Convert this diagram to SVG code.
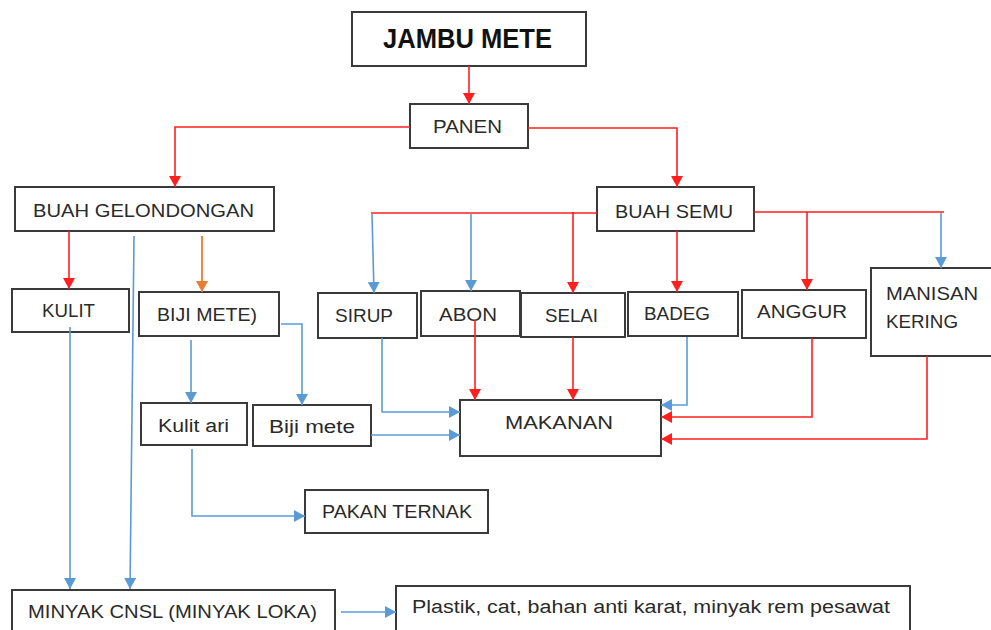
<svg xmlns="http://www.w3.org/2000/svg" width="991" height="630" viewBox="0 0 991 630">
<defs>
<style>
.box{fill:#fff;stroke:#3a3a3a;stroke-width:2}
.t{font-family:"Liberation Sans",Arial,sans-serif;font-size:18px;fill:#2a2a2a}
.tb{font-family:"Liberation Sans",Arial,sans-serif;font-size:27px;font-weight:bold;fill:#111}
.r{fill:none;stroke:#ff1f1f;stroke-width:1.6}
.b{fill:none;stroke:#5b9bd5;stroke-width:1.6}
.o{fill:none;stroke:#ed7d31;stroke-width:1.8}
</style>
<marker id="ar" markerUnits="userSpaceOnUse" markerWidth="12" markerHeight="12" refX="11" refY="6" orient="auto"><path d="M0,0 L11,6 L0,12 z" fill="#ff1f1f"/></marker>
<marker id="ab" markerUnits="userSpaceOnUse" markerWidth="12" markerHeight="12" refX="11" refY="6" orient="auto"><path d="M0,0 L11,6 L0,12 z" fill="#5b9bd5"/></marker>
<marker id="ao" markerUnits="userSpaceOnUse" markerWidth="12" markerHeight="12" refX="11" refY="6" orient="auto"><path d="M0,0 L11,6 L0,12 z" fill="#ed7d31"/></marker>
</defs>
<rect width="991" height="630" fill="#fff"/>
<g id="nodes">
<g id="jambu"><rect class="box" x="352" y="12" width="234" height="54"/><text class="tb" x="383" y="48" textLength="169" lengthAdjust="spacingAndGlyphs">JAMBU METE</text></g>
<g id="panen"><rect class="box" x="410" y="104" width="118" height="44"/><text class="t" x="433" y="133" textLength="69" lengthAdjust="spacingAndGlyphs">PANEN</text></g>
<g id="buah-gelondongan"><rect class="box" x="15" y="187" width="259" height="44"/><text class="t" x="33" y="217" textLength="221" lengthAdjust="spacingAndGlyphs">BUAH GELONDONGAN</text></g>
<g id="buah-semu"><rect class="box" x="597" y="187" width="157" height="44"/><text class="t" x="615" y="218" textLength="118" lengthAdjust="spacingAndGlyphs">BUAH SEMU</text></g>
<g id="kulit"><rect class="box" x="12" y="289" width="117" height="43"/><text class="t" x="42" y="317" textLength="53" lengthAdjust="spacingAndGlyphs">KULIT</text></g>
<g id="biji-mete-1"><rect class="box" x="139" y="292" width="140" height="44"/><text class="t" x="157" y="321" textLength="100" lengthAdjust="spacingAndGlyphs">BIJI METE)</text></g>
<g id="sirup"><rect class="box" x="318" y="293" width="99" height="45"/><text class="t" x="335" y="322" textLength="58" lengthAdjust="spacingAndGlyphs">SIRUP</text></g>
<g id="abon"><rect class="box" x="421" y="291" width="99" height="45"/><text class="t" x="439" y="321" textLength="58" lengthAdjust="spacingAndGlyphs">ABON</text></g>
<g id="selai"><rect class="box" x="521" y="293" width="104" height="44"/><text class="t" x="545" y="322" textLength="53" lengthAdjust="spacingAndGlyphs">SELAI</text></g>
<g id="badeg"><rect class="box" x="628" y="292" width="110" height="44"/><text class="t" x="644" y="320" textLength="66" lengthAdjust="spacingAndGlyphs">BADEG</text></g>
<g id="anggur"><rect class="box" x="742" y="290" width="124" height="48"/><text class="t" x="757" y="318" textLength="90" lengthAdjust="spacingAndGlyphs">ANGGUR</text></g>
<g id="manisan"><rect class="box" x="871" y="268" width="122" height="88"/><text class="t" x="886" y="300" textLength="92" lengthAdjust="spacingAndGlyphs">MANISAN</text><text class="t" x="886" y="328" textLength="72" lengthAdjust="spacingAndGlyphs">KERING</text></g>
<g id="makanan"><rect class="box" x="460" y="400" width="201" height="56"/><text class="t" x="505" y="429" textLength="108" lengthAdjust="spacingAndGlyphs">MAKANAN</text></g>
<g id="kulit-ari"><rect class="box" x="141" y="403" width="106" height="42"/><text class="t" x="158" y="432" textLength="71" lengthAdjust="spacingAndGlyphs">Kulit ari</text></g>
<g id="biji-mete-2"><rect class="box" x="253" y="405" width="118" height="41"/><text class="t" x="269" y="433" textLength="86" lengthAdjust="spacingAndGlyphs">Biji mete</text></g>
<g id="pakan"><rect class="box" x="305" y="490" width="183" height="43"/><text class="t" x="322" y="518" textLength="150" lengthAdjust="spacingAndGlyphs">PAKAN TERNAK</text></g>
<g id="minyak"><rect class="box" x="12" y="590" width="323" height="50"/><text class="t" x="28" y="618" textLength="289" lengthAdjust="spacingAndGlyphs">MINYAK CNSL (MINYAK LOKA)</text></g>
<g id="plastik"><rect class="box" x="396" y="586" width="514" height="54"/><text class="t" x="412" y="613" textLength="478" lengthAdjust="spacingAndGlyphs">Plastik, cat, bahan anti karat, minyak rem pesawat</text></g>
</g>
<g id="connectors">
<path class="r" d="M469,66 V104" marker-end="url(#ar)"/>
<path class="r" d="M410,127 H175 V187" marker-end="url(#ar)"/>
<path class="r" d="M528,128 H677 V187" marker-end="url(#ar)"/>
<path class="r" d="M597,213 H371"/>
<path class="b" d="M372,214 L374,293" marker-end="url(#ab)"/>
<path class="b" d="M471,214 V291" marker-end="url(#ab)"/>
<path class="r" d="M573,212 V293" marker-end="url(#ar)"/>
<path class="r" d="M677,231 V292" marker-end="url(#ar)"/>
<path class="r" d="M754,212 H944"/>
<path class="r" d="M807,212 V290" marker-end="url(#ar)"/>
<path class="b" d="M941,213 V268" marker-end="url(#ab)"/>
<path class="r" d="M69,231 V289" marker-end="url(#ar)"/>
<path class="o" d="M202,236 V292" marker-end="url(#ao)"/>
<path class="b" d="M134,236 L130,589" marker-end="url(#ab)"/>
<path class="b" d="M70,327 V589" marker-end="url(#ab)"/>
<path class="b" d="M191,340 V403" marker-end="url(#ab)"/>
<path class="b" d="M281,324 H302 V405" marker-end="url(#ab)"/>
<path class="b" d="M192,449 V516 H305" marker-end="url(#ab)"/>
<path class="b" d="M382,338 V412 H460" marker-end="url(#ab)"/>
<path class="b" d="M371,435 H460" marker-end="url(#ab)"/>
<path class="r" d="M475,320 V400" marker-end="url(#ar)"/>
<path class="r" d="M573,337 V400" marker-end="url(#ar)"/>
<path class="b" d="M687,337 V405 H661" marker-end="url(#ab)"/>
<path class="r" d="M812,338 V417 H661" marker-end="url(#ar)"/>
<path class="r" d="M927,356 V439 H661" marker-end="url(#ar)"/>
<path class="b" d="M341,612 H396" marker-end="url(#ab)"/>
</g>
</svg>
